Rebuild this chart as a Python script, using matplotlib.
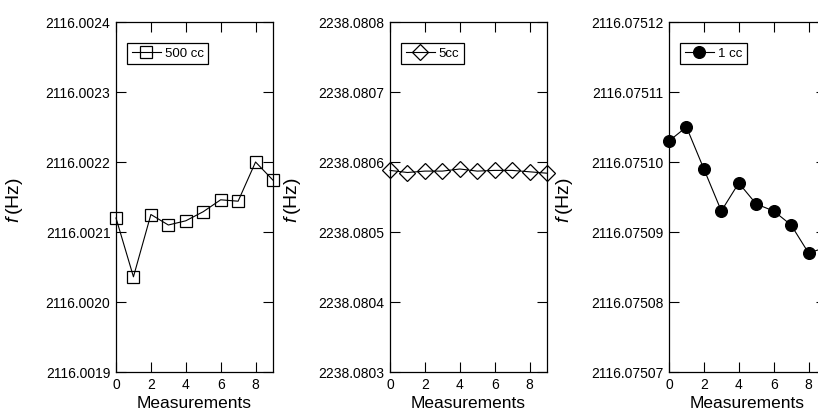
import numpy as np
import matplotlib
matplotlib.use("Agg")
import matplotlib.pyplot as plt
from matplotlib.ticker import FormatStrFormatter

plt.rcParams['font.family'] = ['Liberation Sans', 'DejaVu Sans']
plt.rcParams['mathtext.fontset'] = 'custom'
plt.rcParams['mathtext.it'] = 'Liberation Sans:italic'
plt.rcParams['mathtext.rm'] = 'Liberation Sans'

measurements = np.arange(10)

f_500cc = [2116.002120, 2116.002036, 2116.002125, 2116.002110, 2116.002116,
           2116.002129, 2116.002146, 2116.002144, 2116.002200, 2116.002174]
f_5cc = [2238.080588, 2238.080585, 2238.080587, 2238.080587, 2238.080590,
         2238.080587, 2238.080588, 2238.080588, 2238.080586, 2238.080584]
f_1cc = [2116.075103, 2116.075105, 2116.075099, 2116.075093, 2116.075097,
         2116.075094, 2116.075093, 2116.075091, 2116.075087, 2116.0750878]

labels = ["500 cc", "5cc", "1 cc"]
ylims = [(2116.0019, 2116.0024), (2238.0803, 2238.0808), (2116.07507, 2116.07512)]
yticks = [np.arange(2116.0019, 2116.00245, 0.0001),
          np.arange(2238.0803, 2238.08085, 0.0001),
          np.arange(2116.07507, 2116.075125, 0.00001)]
fmts = ['%.4f', '%.4f', '%.5f']

W, H = 818, 418
fig = plt.figure(figsize=(W / 100, H / 100), dpi=100)

lefts = [116, 390, 669]
styles = [dict(marker='s', ms=8, mfc='none'),
          dict(marker='D', ms=8, mfc='none'),
          dict(marker='o', ms=8.5, mfc='black')]
label_x = [-0.58, -0.555, -0.60]

series = [f_500cc, f_5cc, f_1cc]
for i in range(3):
    ax = fig.add_axes([lefts[i] / W, 46 / H, 157 / W, 350 / H])
    ax.plot(measurements, series[i], color='black', lw=0.8, mec='black',
            mew=0.9, label=labels[i], clip_on=False, **styles[i])
    ax.set_xlim(0, 9)
    ax.set_ylim(*ylims[i])
    ax.set_xticks([0, 2, 4, 6, 8])
    ax.set_yticks(yticks[i])
    ax.yaxis.set_major_formatter(FormatStrFormatter(fmts[i]))
    ax.tick_params(direction='in', top=True, right=True, length=7, width=0.8,
                   labelsize=10, pad=4)
    for s in ax.spines.values():
        s.set_linewidth(0.9)
    ax.set_xlabel('Measurements', fontsize=12.5, labelpad=3)
    ax.set_ylabel(r'$f\,$(Hz)', fontsize=14)
    ax.yaxis.set_label_coords(label_x[i], 0.49)
    leg = ax.legend(loc='upper left', bbox_to_anchor=(0.07, 0.94),
                    borderaxespad=0, fancybox=False, framealpha=1,
                    edgecolor='black', fontsize=9.5, handlelength=2.2,
                    handletextpad=0.3, borderpad=0.35)
    leg.get_frame().set_linewidth(0.9)

fig.savefig('out.png', dpi=100)
